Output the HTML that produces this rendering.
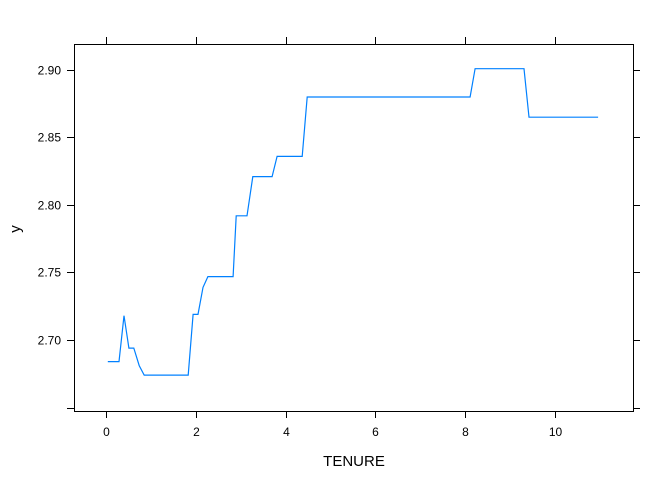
<!DOCTYPE html>
<html><head><meta charset="utf-8"><style>
body{margin:0;background:#fff;}
svg{display:block;font-family:"Liberation Sans",sans-serif;}
</style></head><body>
<svg id="chart" width="672" height="480">
<rect x="74.5" y="44.5" width="559" height="367" fill="none" stroke="#000" stroke-width="1"/>
<g id="axes"></g>
<polyline id="line" fill="none" stroke="#0080ff" stroke-width="1.2"/>
<text x="354" y="466" font-size="15" text-anchor="middle">TENURE</text>
<text x="20" y="229" font-size="15" text-anchor="middle" transform="rotate(-90 20 229)">y</text>
</svg>
<script>
const xs=[0.04,0.29,0.40,0.51,0.62,0.74,0.85,1.83,1.94,2.05,2.16,2.27,2.83,2.90,3.14,3.27,3.70,3.81,4.37,4.48,8.11,8.22,9.31,9.42,10.96];
const ys=[2.684,2.684,2.718,2.694,2.694,2.681,2.674,2.674,2.719,2.719,2.739,2.747,2.747,2.792,2.792,2.821,2.821,2.836,2.836,2.880,2.880,2.901,2.901,2.865,2.865];
const xTicks=[0,2,4,6,8,10];
const yTicks=[2.65,2.70,2.75,2.80,2.85,2.90];
const yTickLabels=["","2.70","2.75","2.80","2.85","2.90"];
const sx=v=>106+v*44.9;
const sy=v=>70+(2.90-v)*1350;
const NS="http://www.w3.org/2000/svg";
const g=document.getElementById('axes');
function mk(tag,attrs){const e=document.createElementNS(NS,tag);for(const k in attrs)e.setAttribute(k,attrs[k]);g.appendChild(e);return e;}
xTicks.forEach(t=>{const x=Math.round(sx(t))+0.5;
 let a=mk('line',{x1:x,x2:x,y1:411,y2:418,stroke:'#000'});
 
 
 let b=mk('line',{x1:x,x2:x,y1:37,y2:44,stroke:'#000'});
 
 
 let l=mk('text',{x:x,y:436,'font-size':12,'text-anchor':'middle'});l.textContent=t;
 
 
});
yTicks.forEach((t,i)=>{const y=Math.round(sy(t))+0.5;
 let a=mk('line',{x1:67,x2:74,y1:y,y2:y,stroke:'#000'});
 
 
 let b=mk('line',{x1:633,x2:640,y1:y,y2:y,stroke:'#000'});
 
 
 if(yTickLabels[i]){let l=mk('text',{x:61,y:y+4,'font-size':12,'text-anchor':'end'});l.textContent=yTickLabels[i];
 
 }
});
document.getElementById('line').setAttribute('points',xs.map((x,i)=>sx(x).toFixed(1)+','+sy(ys[i]).toFixed(1)).join(' '));
</script>
</body></html>
